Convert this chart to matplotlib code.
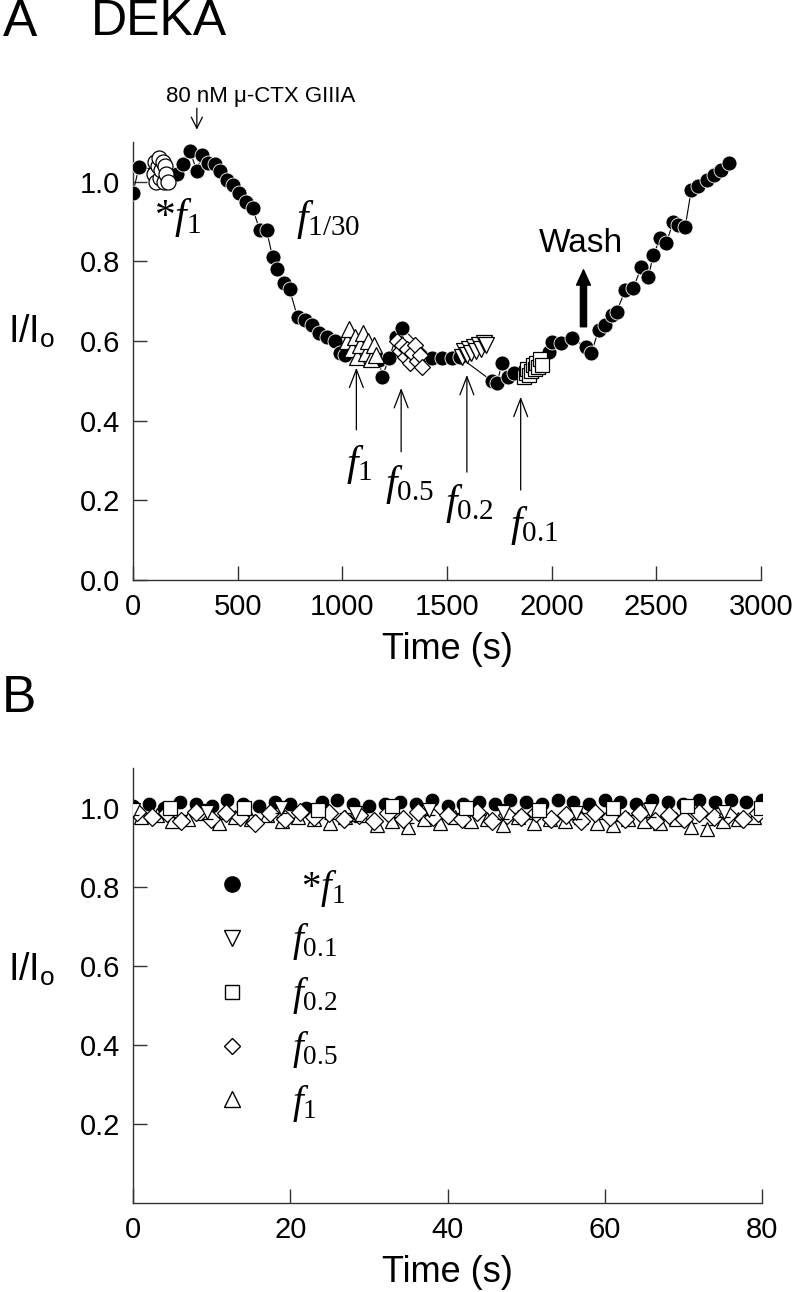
import matplotlib
matplotlib.use('Agg')
import matplotlib.pyplot as plt
from matplotlib import font_manager as fm
from matplotlib.lines import Line2D
import numpy as np

names = {f.name for f in fm.fontManager.ttflist}
NARROW = 'Liberation Sans Narrow' if 'Liberation Sans Narrow' in names else 'Liberation Sans'
SANS = 'Liberation Sans'

plt.rcParams['mathtext.fontset'] = 'custom'
plt.rcParams['mathtext.it'] = 'Liberation Serif:italic'
plt.rcParams['mathtext.rm'] = 'Liberation Serif'
plt.rcParams['mathtext.sf'] = SANS
plt.rcParams['font.family'] = [NARROW, 'DejaVu Sans']

# ---------------- Panel A data ----------------
a_filled_t = [0, 29, 210, 238, 271, 305, 329, 357, 390, 414, 448, 476, 505, 538, 571, 605, 638,
              667, 690, 719, 748, 786, 824, 857, 890, 929, 967, 990, 1015, 1176, 1190, 1224,
              1257, 1286, 1429, 1476, 1524, 1560, 1714, 1740, 1762, 1790, 1819, 1986, 2000,
              2043, 2095, 2162, 2190, 2224, 2257, 2286, 2310, 2352, 2390, 2429, 2462, 2486,
              2519, 2548, 2581, 2605, 2638, 2667, 2700, 2740, 2775, 2810, 2845]
a_filled_v = [0.973, 1.038, 1.020, 1.045, 1.078, 1.028, 1.068, 1.048, 1.045, 1.028, 1.005, 0.992,
              0.972, 0.950, 0.935, 0.879, 0.879, 0.81, 0.78, 0.746, 0.73, 0.66, 0.653, 0.64,
              0.62, 0.61, 0.60, 0.57, 0.565, 0.553, 0.51, 0.558, 0.61, 0.633, 0.558, 0.558,
              0.558, 0.56, 0.50, 0.495, 0.545, 0.51, 0.52, 0.573, 0.598, 0.595, 0.608, 0.585,
              0.57, 0.628, 0.64, 0.666, 0.673, 0.729, 0.734, 0.786, 0.761, 0.817, 0.859, 0.847,
              0.90, 0.892, 0.887, 0.98, 0.99, 1.005, 1.017, 1.03, 1.048]

a_f1star_t = [98, 105, 112, 118, 124, 130, 136, 142, 148, 154, 160, 166]
a_f1star_v = [1.02, 1.05, 1.0, 1.04, 1.06, 1.01, 1.03, 1.05, 1.0, 1.04, 1.02, 1.0]

a_f1_t = [1020, 1033, 1046, 1059, 1072, 1085, 1098, 1111, 1124, 1137, 1150, 1162]
a_f1_v = [0.60, 0.63, 0.58, 0.61, 0.56, 0.59, 0.62, 0.57, 0.60, 0.555, 0.59, 0.565]

a_f05_t = [1262, 1274, 1286, 1298, 1310, 1322, 1334, 1346, 1358, 1370, 1382]
a_f05_v = [0.60, 0.575, 0.59, 0.56, 0.58, 0.545, 0.57, 0.59, 0.55, 0.565, 0.535]

a_dtri_t = [1571, 1583, 1594, 1606, 1617, 1629, 1640, 1652, 1663, 1675, 1686]
a_dtri_v = [0.56, 0.575, 0.565, 0.58, 0.57, 0.585, 0.575, 0.59, 0.58, 0.595, 0.59]

a_sq_t = [1867, 1876, 1884, 1893, 1901, 1910, 1918, 1927, 1935, 1944, 1952]
a_sq_v = [0.51, 0.52, 0.53, 0.515, 0.525, 0.54, 0.53, 0.545, 0.535, 0.555, 0.54]

a_xticks = [0, 500, 1000, 1500, 2000, 2500, 3000]
a_yticks = [0.0, 0.2, 0.4, 0.6, 0.8, 1.0]

# ---------------- Panel B data ----------------
b_fc_t = np.arange(0, 81, 2)
b_fc_v = [1.005, 1.01, 1.0, 1.015, 1.01, 1.005, 1.02, 1.01, 1.005, 1.015, 1.01, 1.0, 1.015,
          1.02, 1.01, 1.005, 1.01, 1.015, 1.01, 1.02, 1.005, 1.01, 1.015, 1.01, 1.02, 1.015,
          1.01, 1.02, 1.015, 1.01, 1.02, 1.015, 1.01, 1.02, 1.015, 1.01, 1.02, 1.015, 1.02,
          1.015, 1.02]

b_ut_t = np.arange(1, 80, 2)
b_ut_v = [0.975, 0.98, 0.965, 0.97, 0.985, 0.96, 0.975, 0.97, 0.98, 0.965, 0.975, 0.97, 0.96,
          0.975, 0.98, 0.955, 0.965, 0.95, 0.97, 0.96, 0.975, 0.965, 0.97, 0.955, 0.975, 0.96,
          0.97, 0.965, 0.975, 0.96, 0.955, 0.97, 0.965, 0.96, 0.97, 0.95, 0.945, 0.965, 0.97,
          0.975]
b_ut_e = [0.01] * 40

b_dm_t = np.linspace(0.5, 79.5, 43)
b_dm_v = [0.99, 0.975, 0.985, 0.965, 0.99, 0.97, 0.985, 0.975, 0.96, 0.985,
          0.97, 0.99, 0.975, 0.985, 0.97, 0.98, 0.965, 0.985, 0.97, 0.99,
          0.975, 0.98, 0.97, 0.99, 0.965, 0.98, 0.975, 0.985, 0.97, 0.98,
          0.965, 0.985, 0.975, 0.97, 0.985, 0.965, 0.98, 0.97, 0.985, 0.975,
          0.98, 0.97, 0.985]

b_dt_t = np.linspace(0, 75.2, 9)
b_dt_v = [0.995, 0.99, 1.0, 0.985, 0.995, 0.99, 0.985, 0.995, 0.99]
b_dt_e = [0.015, 0.02, 0.015, 0.02, 0.015, 0.02, 0.015, 0.02, 0.015]

b_sq_t = np.linspace(4.7, 79.9, 9)
b_sq_v = [1.0, 1.0, 0.995, 1.005, 1.0, 0.995, 1.0, 1.005, 1.0]
b_sq_e = [0.01] * 9

b_xticks = [0, 20, 40, 60, 80]
b_yticks = [0.2, 0.4, 0.6, 0.8, 1.0]

# ---------------- Figure ----------------
W, H = 799, 1292
fig = plt.figure(figsize=(W / 100, H / 100), dpi=100)

def px_axes(l, r, t, b):
    return fig.add_axes([l / W, 1 - b / H, (r - l) / W, (b - t) / H])

axA = px_axes(133, 761, 142, 580)
axB = px_axes(133, 762, 768, 1203)

TICKFS = 21
for ax in (axA, axB):
    for s in ('top', 'right'):
        ax.spines[s].set_visible(False)
    for s in ('left', 'bottom'):
        ax.spines[s].set_linewidth(1.0)
        ax.spines[s].set_color('#333333')
    ax.tick_params(direction='in', length=10, width=1.0, color='#333333',
                   labelsize=TICKFS, pad=9)

mk = dict(color='k', linestyle='none')

# Panel A
axA.plot(a_filled_t, a_filled_v, color='k', lw=0.8, marker='o', ms=10.8,
         mfc='k', mec='white', mew=0.6, zorder=3)
axA.plot(a_f1star_t, a_f1star_v, marker='o', ms=10.8, mfc='white', mec='k', mew=0.9,
         zorder=4, **mk)
axA.plot(a_f1_t, a_f1_v, marker='^', ms=11, mfc='white', mec='k', mew=0.9, zorder=4, **mk)
axA.plot(a_f05_t, a_f05_v, marker='D', ms=8.5, mfc='white', mec='k', mew=0.9, zorder=4, **mk)
axA.plot(a_dtri_t, a_dtri_v, marker='v', ms=11, mfc='white', mec='k', mew=0.9, zorder=4, **mk)
axA.plot(a_sq_t, a_sq_v, marker='s', ms=10, mfc='white', mec='k', mew=0.9, zorder=4, **mk)

axA.set_xlim(0, 3000)
axA.set_ylim(0, 1.1)
axA.set_xticks(a_xticks)
axA.set_yticks(a_yticks)
axA.set_yticklabels([f'{v:.1f}' for v in a_yticks])
axA.set_xlabel('Time (s)', fontsize=26, labelpad=8)

fsf = 30
axA.text(214, 0.91, r'$\mathrm{*}f_{\mathit{1}}$', fontsize=fsf, ha='center', va='center')
axA.text(930, 0.905, r'$f_{\mathit{1/30}}$', fontsize=fsf, ha='center', va='center')
axA.text(1081, 0.289, r'$f_{\mathit{1}}$', fontsize=fsf, ha='center', va='center')
axA.text(1319, 0.239, r'$f_{\mathit{0.5}}$', fontsize=fsf, ha='center', va='center')
axA.text(1605, 0.193, r'$f_{\mathit{0.2}}$', fontsize=fsf, ha='center', va='center')
axA.text(1914, 0.138, r'$f_{\mathit{0.1}}$', fontsize=fsf, ha='center', va='center')

arr_thin = dict(arrowstyle='->,head_length=0.65,head_width=0.25', lw=0.9, color='k',
                mutation_scale=20, shrinkA=0, shrinkB=0)
for xa, ytip, ytail in [(1067, 0.533, 0.377), (1281, 0.482, 0.322),
                        (1595, 0.515, 0.271), (1852, 0.46, 0.226)]:
    axA.annotate('', xy=(xa, ytip), xytext=(xa, ytail), arrowprops=arr_thin)

axA.text(612, 1.215, '80 nM μ-CTX GIIIA', fontsize=16, family=SANS,
         ha='center', va='center', clip_on=False)
axA.annotate('', xy=(305, 1.131), xytext=(305, 1.185), annotation_clip=False,
             arrowprops=dict(arrowstyle='->,head_length=0.4,head_width=0.2', lw=0.9,
                             color='k', mutation_scale=20, shrinkA=0, shrinkB=0))

axA.text(2138, 0.844, 'Wash', fontsize=24, family=SANS, ha='center', va='center')
axA.annotate('', xy=(2152, 0.779), xytext=(2152, 0.636),
             arrowprops=dict(arrowstyle='simple,head_length=0.55,head_width=0.5,tail_width=0.22',
                             fc='k', ec='k', mutation_scale=20, shrinkA=0, shrinkB=0))

# Panel B
ebkw = dict(ecolor='k', elinewidth=0.8, capsize=4, capthick=0.8, linestyle='none')
axB.plot(b_fc_t, b_fc_v, marker='o', ms=10.5, mfc='k', mec='white', mew=0.5, zorder=2, **mk)
axB.errorbar(b_ut_t, b_ut_v, yerr=b_ut_e, marker='^', ms=10.5, mfc='white', mec='k', mew=0.9,
             zorder=3, **ebkw)
axB.plot(b_dm_t, b_dm_v, marker='D', ms=8.8, mfc='white', mec='k', mew=0.9, zorder=4, **mk)
axB.errorbar(b_dt_t, b_dt_v, yerr=b_dt_e, marker='v', ms=10.5, mfc='white', mec='k', mew=0.9,
             zorder=5, **ebkw)
axB.errorbar(b_sq_t, b_sq_v, yerr=b_sq_e, marker='s', ms=10, mfc='white', mec='k', mew=0.9,
             zorder=6, **ebkw)

axB.set_xlim(0, 80)
axB.set_ylim(0, 1.1)
axB.set_xticks(b_xticks)
axB.set_yticks(b_yticks)
axB.set_yticklabels([f'{v:.1f}' for v in b_yticks])
axB.set_xlabel('Time (s)', fontsize=26, labelpad=8)

handles = [
    Line2D([], [], marker='o', ms=11, mfc='k', mec='k', **mk),
    Line2D([], [], marker='v', ms=11, mfc='white', mec='k', mew=1.0, **mk),
    Line2D([], [], marker='s', ms=10, mfc='white', mec='k', mew=1.0, **mk),
    Line2D([], [], marker='D', ms=8.5, mfc='white', mec='k', mew=1.0, **mk),
    Line2D([], [], marker='^', ms=11, mfc='white', mec='k', mew=1.0, **mk),
]
labels = [r'$\ \mathrm{*}f_{\mathrm{1}}$', r'$f_{\mathrm{0.1}}$', r'$f_{\mathrm{0.2}}$',
          r'$f_{\mathrm{0.5}}$', r'$f_{\mathrm{1}}$']
axB.legend(handles, labels, loc='upper left', bbox_to_anchor=(0.126, 0.771),
           frameon=False, fontsize=28, handlelength=1.0, handletextpad=1.04,
           labelspacing=0.33, borderpad=0, borderaxespad=0)

# Labels
fig.text(3 / W, 1 - 22 / H, 'A', fontsize=37, family=SANS, va='center', ha='left')
fig.text(91 / W, 1 - 22 / H, 'DEKA', fontsize=36, family=SANS, va='center', ha='left')
fig.text(2 / W, 1 - 699 / H, 'B', fontsize=37, family=SANS, va='center', ha='left')
fig.text(32 / W, 1 - 332 / H, r'I/I$_\mathsf{o}$', fontsize=27, family=SANS,
         va='center', ha='center')
fig.text(32 / W, 1 - 970 / H, r'I/I$_\mathsf{o}$', fontsize=27, family=SANS,
         va='center', ha='center')

fig.savefig('out.png', dpi=100)
